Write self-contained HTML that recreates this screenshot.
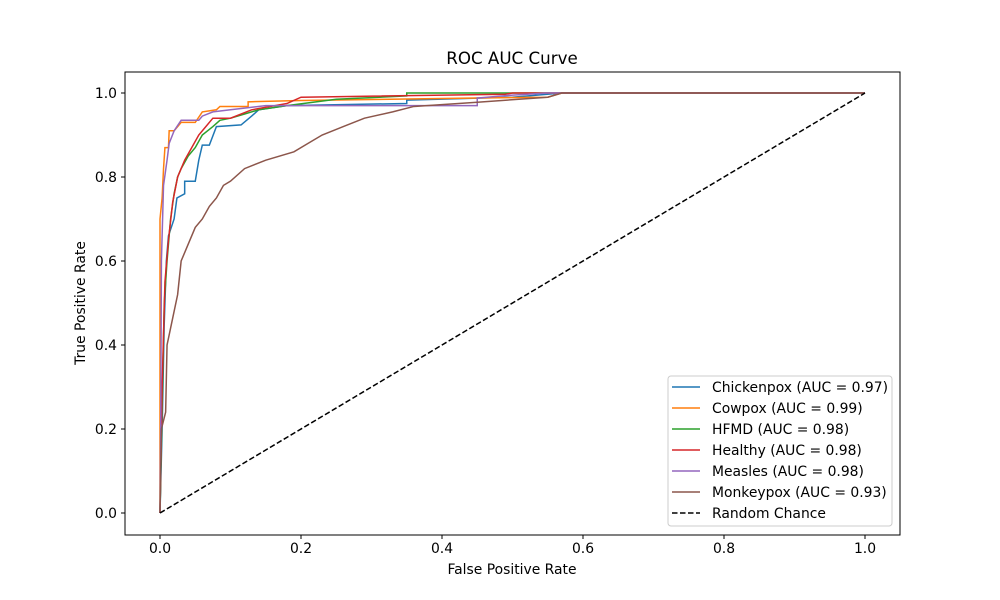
<!DOCTYPE html>
<html><head><meta charset="utf-8"><style>
body{margin:0;background:#fff}
svg{display:block;font-family:"DejaVu Sans","Liberation Sans",sans-serif}
</style></head><body>
<svg id="chart" width="1000" height="600" xmlns="http://www.w3.org/2000/svg">
<rect width="1000" height="600" fill="#fff"/>
<g id="plot"></g>
</svg>
<script>
const seriesNames=["Chickenpox","Cowpox","HFMD","Healthy","Measles","Monkeypox"];
const aucValues=[0.97,0.99,0.98,0.98,0.98,0.93];
const colors=["#1f77b4","#ff7f0e","#2ca02c","#d62728","#9467bd","#8c564b"];
const xTicks=[0,0.2,0.4,0.6,0.8,1.0];
const yTicks=[0,0.2,0.4,0.6,0.8,1.0];
const chickenpox=[[0,0],[0.003,0.2],[0.006,0.45],[0.009,0.6],[0.012,0.66],[0.02,0.7],[0.024,0.75],[0.035,0.76],[0.035,0.79],[0.05,0.79],[0.055,0.84],[0.06,0.876],[0.07,0.876],[0.08,0.92],[0.115,0.924],[0.13,0.945],[0.14,0.96],[0.18,0.97],[0.35,0.975],[0.35,0.983],[0.5,0.99],[0.57,1],[1,1]];
const cowpox=[[0,0],[0,0.7],[0.003,0.75],[0.005,0.82],[0.007,0.87],[0.012,0.87],[0.013,0.91],[0.02,0.91],[0.025,0.92],[0.03,0.93],[0.05,0.93],[0.06,0.955],[0.08,0.96],[0.085,0.968],[0.125,0.968],[0.125,0.979],[0.2,0.982],[0.45,0.988],[0.55,0.99],[0.57,1],[1,1]];
const hfmd=[[0,0],[0.003,0.25],[0.006,0.5],[0.01,0.6],[0.015,0.7],[0.02,0.76],[0.025,0.8],[0.03,0.82],[0.04,0.85],[0.05,0.87],[0.06,0.9],[0.075,0.92],[0.085,0.935],[0.1,0.94],[0.12,0.95],[0.14,0.96],[0.18,0.97],[0.25,0.985],[0.35,0.993],[0.35,1],[1,1]];
const healthy=[[0,0],[0.003,0.3],[0.007,0.55],[0.012,0.65],[0.018,0.74],[0.025,0.8],[0.035,0.84],[0.045,0.87],[0.055,0.9],[0.065,0.92],[0.075,0.94],[0.1,0.94],[0.13,0.96],[0.18,0.975],[0.2,0.99],[0.49,0.997],[0.5,1],[1,1]];
const measles=[[0,0],[0.001,0.2],[0.002,0.6],[0.005,0.78],[0.01,0.84],[0.013,0.88],[0.02,0.91],[0.03,0.935],[0.055,0.935],[0.06,0.945],[0.075,0.955],[0.1,0.96],[0.15,0.97],[0.45,0.97],[0.45,0.988],[0.5,0.995],[0.55,1],[1,1]];
const monkeypox=[[0,0],[0.002,0.2],[0.008,0.24],[0.01,0.4],[0.015,0.44],[0.025,0.52],[0.03,0.6],[0.04,0.64],[0.05,0.68],[0.06,0.7],[0.07,0.73],[0.08,0.75],[0.09,0.78],[0.1,0.79],[0.12,0.82],[0.15,0.84],[0.19,0.86],[0.21,0.88],[0.23,0.9],[0.26,0.92],[0.29,0.94],[0.33,0.955],[0.36,0.968],[0.45,0.978],[0.55,0.99],[0.57,1],[1,1]];
const allSeries=[chickenpox,cowpox,hfmd,healthy,measles,monkeypox];

const NS="http://www.w3.org/2000/svg";
const g=document.getElementById('plot');
const L=125,R=900,T=72,B=535;
const sx=v=>160+705*v, sy=v=>513-420*v;
function mk(tag,attrs,parent){const e=document.createElementNS(NS,tag);for(const k in attrs)e.setAttribute(k,attrs[k]);(parent||g).appendChild(e);return e;}

let t=mk('text',{x:512,y:64,'text-anchor':'middle','font-size':16.7,fill:'#000'});t.textContent='ROC AUC Curve';


t=mk('text',{x:512,y:574,'text-anchor':'middle','font-size':13.9,fill:'#000'});t.textContent='False Positive Rate';


t=mk('text',{x:0,y:0,'text-anchor':'middle','font-size':13.9,fill:'#000',transform:'translate(85,303) rotate(-90)'});t.textContent='True Positive Rate';



xTicks.forEach(v=>{const x=sx(v);
 const l=mk('line',{x1:x,x2:x,y1:B,y2:B+4,stroke:'#000','stroke-width':1});
 
 
 const tx=mk('text',{x:x,y:B+18,'text-anchor':'middle','font-size':13.9,fill:'#000'});tx.textContent=v.toFixed(1);
 
 
});
yTicks.forEach(v=>{const y=sy(v);
 const l=mk('line',{x1:L-4,x2:L,y1:y,y2:y,stroke:'#000','stroke-width':1});
 
 
 const tx=mk('text',{x:L-8,y:y+5,'text-anchor':'end','font-size':13.9,fill:'#000'});tx.textContent=v.toFixed(1);
 
 
});

allSeries.forEach((s,i)=>{
 const p=mk('polyline',{points:s.map(d=>sx(d[0])+','+sy(d[1])).join(' '),fill:'none',stroke:colors[i],'stroke-width':1.5});
 
 
});
const diag=mk('line',{x1:sx(0),y1:sy(0),x2:sx(1),y2:sy(1),stroke:'#000','stroke-width':1.5,'stroke-dasharray':'5.5,2.5'});



const fr=mk('rect',{x:L,y:T,width:R-L,height:B-T,fill:'none',stroke:'#000','stroke-width':1});



const lg=mk('g',{});


mk('rect',{x:668,y:376,width:224,height:150,rx:3,fill:'#fff','fill-opacity':0.8,stroke:'#ccc','stroke-width':1},lg);
const labels=seriesNames.map((n,i)=>n+' (AUC = '+aucValues[i].toFixed(2)+')').concat(['Random Chance']);
labels.forEach((lab,i)=>{
 const y=387+i*21;
 const e=mk('g',{},lg);
 
 
 const attrs={x1:672,x2:700,y1:y,y2:y,stroke:i<6?colors[i]:'#000','stroke-width':1.5};
 if(i==6)attrs['stroke-dasharray']='5.5,2.5';
 mk('line',attrs,e);
 const tx=mk('text',{x:712,y:y+5,'font-size':13.9,fill:'#000'},e);tx.textContent=lab;
});
</script>
</body></html>
